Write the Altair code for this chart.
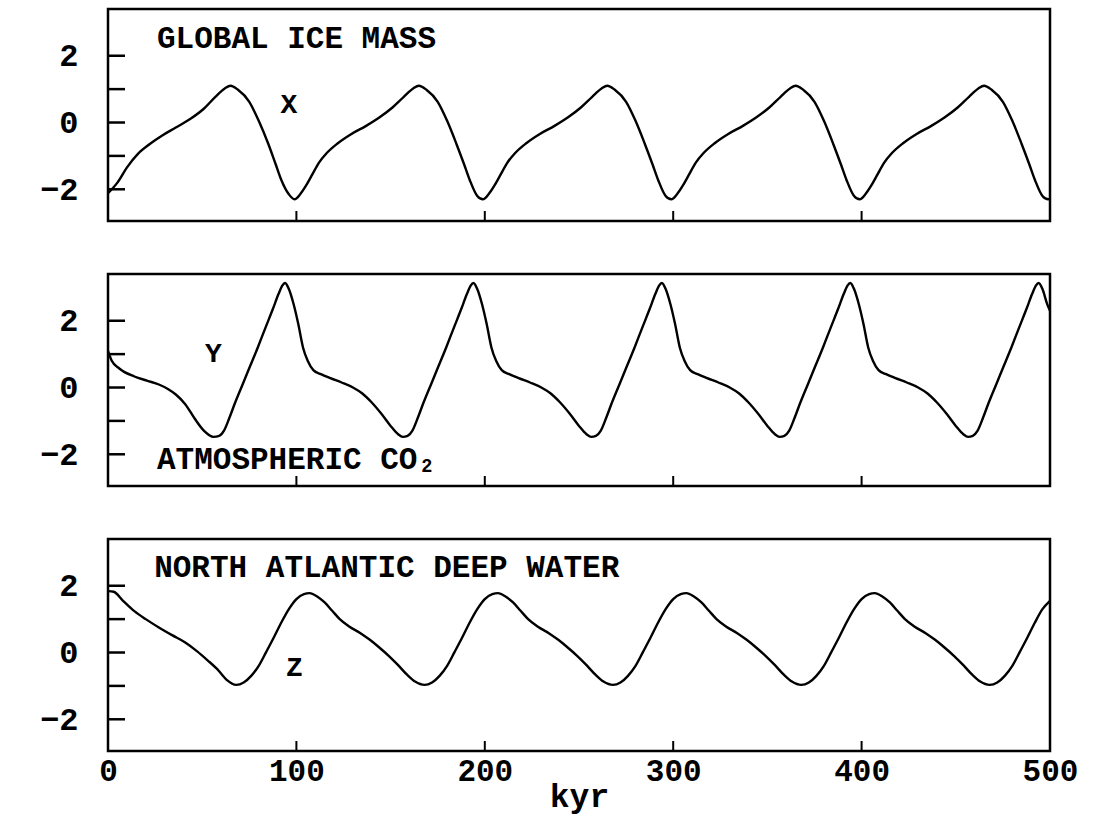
import altair as alt
import pandas as pd

# ---------------- data ----------------
ICE_T = [0, 2, 5, 10, 16, 22, 29, 36, 44, 51, 57, 62, 65, 69, 75, 80, 85, 89, 92, 96, 99,
         102, 105, 108, 112, 116, 122, 129, 137, 144, 151, 157, 162, 165, 169, 175, 180, 185, 189, 192, 196, 199,
         202, 205, 208, 212, 216, 222, 229, 237, 244, 251, 257, 262, 265, 269, 275, 280, 285, 289, 292, 296, 299,
         302, 305, 308, 312, 316, 322, 329, 337, 344, 351, 357, 362, 365, 369, 375, 380, 385, 389, 392, 396, 399,
         402, 405, 408, 412, 416, 422, 429, 437, 444, 451, 457, 462, 465, 469, 475, 480, 485, 489, 492, 496, 499,
         500]
ICE_V = [-2.12, -2.0, -1.8, -1.35, -0.93, -0.65, -0.38, -0.15, 0.12, 0.42, 0.77, 1.02, 1.1, 0.98, 0.62, 0.05, -0.63, -1.25, -1.72, -2.15, -2.3,
         -2.15, -1.9, -1.6, -1.2, -0.92, -0.62, -0.35, -0.1, 0.15, 0.45, 0.77, 1.02, 1.1, 0.98, 0.62, 0.05, -0.65, -1.25, -1.72, -2.2, -2.3,
         -2.15, -1.9, -1.6, -1.2, -0.92, -0.62, -0.35, -0.1, 0.15, 0.45, 0.77, 1.02, 1.1, 0.98, 0.62, 0.05, -0.65, -1.25, -1.72, -2.2, -2.3,
         -2.15, -1.9, -1.6, -1.2, -0.92, -0.62, -0.35, -0.1, 0.15, 0.45, 0.77, 1.02, 1.1, 0.98, 0.62, 0.05, -0.65, -1.25, -1.72, -2.2, -2.3,
         -2.15, -1.9, -1.6, -1.2, -0.92, -0.62, -0.35, -0.1, 0.15, 0.45, 0.77, 1.02, 1.1, 0.98, 0.62, 0.05, -0.65, -1.25, -1.72, -2.2, -2.3,
         -2.28]

CO2_T = [0, 2, 6, 14, 21, 27, 32, 36, 41, 46, 51, 56,
         59, 61.5, 64.5, 67.5, 71.5, 75.5, 79.5, 83.5, 87.5, 90.5, 92.5, 94, 96, 98.5, 101, 103.5, 106, 109, 113, 118, 124, 130, 135, 140, 145, 150, 154, 156.5,
         159, 161.5, 164.5, 167.5, 171.5, 175.5, 179.5, 183.5, 187.5, 190.5, 192.5, 194, 196, 198.5, 201, 203.5, 206, 209, 213, 218, 224, 230, 235, 240, 245, 250, 254, 256.5,
         259, 261.5, 264.5, 267.5, 271.5, 275.5, 279.5, 283.5, 287.5, 290.5, 292.5, 294, 296, 298.5, 301, 303.5, 306, 309, 313, 318, 324, 330, 335, 340, 345, 350, 354, 356.5,
         359, 361.5, 364.5, 367.5, 371.5, 375.5, 379.5, 383.5, 387.5, 390.5, 392.5, 394, 396, 398.5, 401, 403.5, 406, 409, 413, 418, 424, 430, 435, 440, 445, 450, 454, 456.5,
         459, 461.5, 464.5, 467.5, 471.5, 475.5, 479.5, 483.5, 487.5, 490.5, 492.5, 494, 496, 498.5, 500]
CO2_V = [1.1, 0.8, 0.57, 0.33, 0.2, 0.09, -0.05, -0.21, -0.5, -0.93, -1.3, -1.48,
         -1.45, -1.3, -0.9, -0.45, 0.1, 0.65, 1.2, 1.78, 2.35, 2.8, 3.05, 3.13, 2.95, 2.5, 1.9, 1.2, 0.8, 0.52, 0.4, 0.28, 0.15, 0.0, -0.18, -0.45, -0.78, -1.15, -1.4, -1.48,
         -1.45, -1.3, -0.9, -0.45, 0.1, 0.65, 1.2, 1.78, 2.35, 2.8, 3.05, 3.13, 2.95, 2.5, 1.9, 1.2, 0.8, 0.52, 0.4, 0.28, 0.15, 0.0, -0.18, -0.45, -0.78, -1.15, -1.4, -1.48,
         -1.45, -1.3, -0.9, -0.45, 0.1, 0.65, 1.2, 1.78, 2.35, 2.8, 3.05, 3.13, 2.95, 2.5, 1.9, 1.2, 0.8, 0.52, 0.4, 0.28, 0.15, 0.0, -0.18, -0.45, -0.78, -1.15, -1.4, -1.48,
         -1.45, -1.3, -0.9, -0.45, 0.1, 0.65, 1.2, 1.78, 2.35, 2.8, 3.05, 3.13, 2.95, 2.5, 1.9, 1.2, 0.8, 0.52, 0.4, 0.28, 0.15, 0.0, -0.18, -0.45, -0.78, -1.15, -1.4, -1.48,
         -1.45, -1.3, -0.9, -0.45, 0.1, 0.65, 1.2, 1.78, 2.35, 2.8, 3.05, 3.13, 2.95, 2.5, 2.3]

NADW_T = [0, 3, 8, 14, 20, 27, 34, 41, 47, 53, 58, 63, 68,
          72, 76, 80, 84, 88, 92, 96, 100, 104, 107, 111, 115, 119, 123, 128, 134, 139, 144, 149, 154, 159, 163, 168,
          172, 176, 180, 184, 188, 192, 196, 200, 204, 207, 211, 215, 219, 223, 228, 234, 239, 244, 249, 254, 259, 263, 268,
          272, 276, 280, 284, 288, 292, 296, 300, 304, 307, 311, 315, 319, 323, 328, 334, 339, 344, 349, 354, 359, 363, 368,
          372, 376, 380, 384, 388, 392, 396, 400, 404, 407, 411, 415, 419, 423, 428, 434, 439, 444, 449, 454, 459, 463, 468,
          472, 476, 480, 484, 488, 492, 496, 500]
NADW_V = [1.84, 1.82, 1.55, 1.24, 1.0, 0.75, 0.52, 0.3, 0.05, -0.24, -0.5, -0.82, -0.97,
          -0.9, -0.7, -0.4, 0.02, 0.45, 0.9, 1.3, 1.6, 1.75, 1.78, 1.68, 1.5, 1.25, 1.0, 0.78, 0.58, 0.38, 0.15, -0.1, -0.38, -0.68, -0.87, -0.97,
          -0.9, -0.7, -0.4, 0.02, 0.45, 0.9, 1.3, 1.6, 1.75, 1.78, 1.68, 1.5, 1.25, 1.0, 0.78, 0.58, 0.38, 0.15, -0.1, -0.38, -0.68, -0.87, -0.97,
          -0.9, -0.7, -0.4, 0.02, 0.45, 0.9, 1.3, 1.6, 1.75, 1.78, 1.68, 1.5, 1.25, 1.0, 0.78, 0.58, 0.38, 0.15, -0.1, -0.38, -0.68, -0.87, -0.97,
          -0.9, -0.7, -0.4, 0.02, 0.45, 0.9, 1.3, 1.6, 1.75, 1.78, 1.68, 1.5, 1.25, 1.0, 0.78, 0.58, 0.38, 0.15, -0.1, -0.38, -0.68, -0.87, -0.97,
          -0.9, -0.7, -0.4, 0.02, 0.45, 0.9, 1.3, 1.55]

Y_LABELS = [-2, 0, 2]
Y_TICKS = [-2, -1, 0, 1, 2]
X_LABELS = [0, 100, 200, 300, 400, 500]
X_TICKS = [100, 200, 300, 400]

# ---------------- chart ----------------
FONT = "Liberation Mono"
W, H = 942, 212
XS = alt.Scale(domain=[0, 500], nice=False, zero=False)
YS = alt.Scale(domain=[-2.95, 3.4], nice=False, zero=False)


def panel(t, v, bottom, notes):
    if bottom:
        xaxis = alt.Axis(values=X_LABELS, title="kyr", ticks=False, domain=False, grid=False,
                         labelFontSize=31, labelPadding=5, labelFlush=False, labelOverlap=False,
                         titleFontSize=33, titlePadding=-6, format="d",
                         labelFont=FONT, labelFontWeight="bold", labelColor="black",
                         titleFont=FONT, titleFontWeight="bold", titleColor="black")
    else:
        xaxis = None
    yaxis = alt.Axis(values=Y_LABELS, title=None, ticks=False, domain=False, grid=False,
                     labelFontSize=32, labelPadding=30,
                     labelFont=FONT, labelFontWeight="bold", labelColor="black")
    line = alt.Chart(pd.DataFrame({"t": t, "v": v})).mark_line(
        color="black", strokeWidth=2.4, interpolate="monotone"
    ).encode(x=alt.X("t:Q", scale=XS, axis=xaxis), y=alt.Y("v:Q", scale=YS, axis=yaxis))
    # other layers carry no axis spec of their own, so the line layer's axes are used
    yt = alt.Chart(pd.DataFrame({"v": Y_TICKS})).mark_rule(color="black", strokeWidth=2.5).encode(
        y=alt.Y("v:Q", scale=YS), x=alt.value(0), x2=alt.value(17))
    xt = alt.Chart(pd.DataFrame({"t": X_TICKS})).mark_rule(color="black", strokeWidth=2).encode(
        x=alt.X("t:Q", scale=XS), y=alt.value(H), y2=alt.value(H - 10))
    layers = [line, yt, xt]
    for txt, tx, ty, align, size in notes:
        layers.append(
            alt.Chart(pd.DataFrame({"n": [txt]})).mark_text(
                align=align, baseline="middle", font=FONT, fontSize=size, fontWeight="bold", color="black"
            ).encode(x=alt.XDatum(tx, scale=XS), y=alt.YDatum(ty, scale=YS), text="n:N")
        )
    return alt.layer(*layers).properties(width=W, height=H)


p1 = panel(ICE_T, ICE_V, False, [("GLOBAL ICE MASS", 26, 2.5, "left", 31), ("X", 96, 0.53, "center", 28)])
p2 = panel(CO2_T, CO2_V, False, [("ATMOSPHERIC CO₂", 26, -2.17, "left", 31), ("Y", 56, 1.0, "center", 28)])
p3 = panel(NADW_T, NADW_V, True, [("NORTH ATLANTIC DEEP WATER", 24.5, 2.52, "left", 31), ("Z", 99, -0.47, "center", 28)])

chart = alt.vconcat(p1, p2, p3, spacing=48).properties(
    padding={"left": 38, "top": 7, "right": 5, "bottom": 0},
    background="white",
).configure_view(stroke="black", strokeWidth=2.5)

chart.save("out.html", embed_options={"renderer": "svg", "actions": False})
